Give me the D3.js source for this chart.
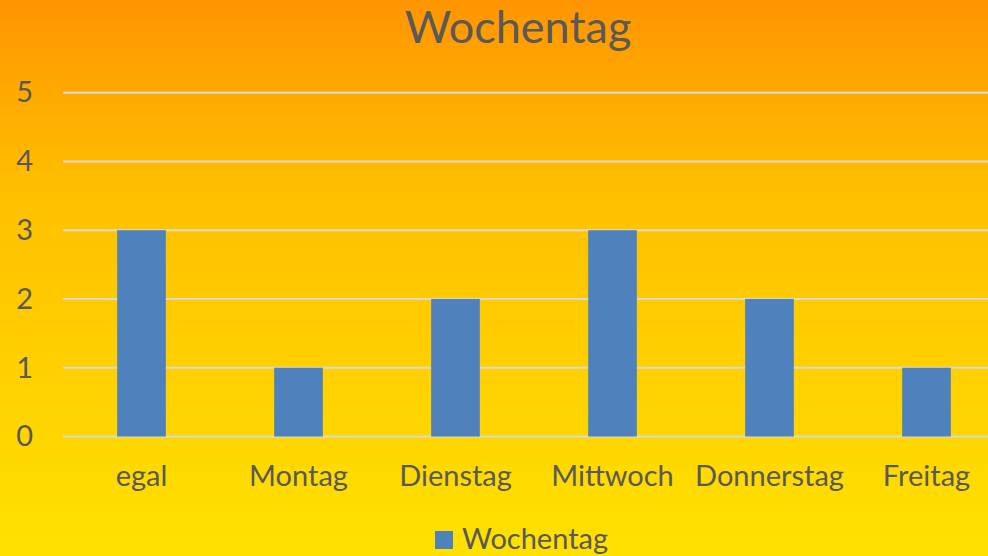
<!DOCTYPE html>
<html><head><meta charset="utf-8">
<script src="https://cdn.jsdelivr.net/npm/d3@7"></script>
<style>html,body{margin:0;padding:0;overflow:hidden;}</style>
</head><body>
<svg id="c" width="988" height="556"></svg>
<script>
const categories = ["egal","Montag","Dienstag","Mittwoch","Donnerstag","Freitag"];
const values = [3,1,2,3,2,1];
const yTicks = [0,1,2,3,4,5];
const seriesName = "Wochentag";
const title = "Wochentag";

const W = 988, H = 556;
const svg = d3.select("#c");
const font = "Lato, 'Open Sans', sans-serif";
const textColor = "#595959";

const defs = svg.append("defs");
const grad = defs.append("linearGradient").attr("id","bg").attr("x1",0).attr("y1",0).attr("x2",0).attr("y2",1);
grad.append("stop").attr("offset","0%").attr("stop-color","#FF9500");
grad.append("stop").attr("offset","35%").attr("stop-color","#FFC000");
grad.append("stop").attr("offset","100%").attr("stop-color","#FFE100");
svg.append("rect").attr("width",W).attr("height",H).attr("fill","url(#bg)");

const x = d3.scaleBand().domain(categories).range([63, 1005]).paddingInner(0.69).paddingOuter(0.345);
const y = d3.scaleLinear().domain([0,5]).range([436.5, 92.7]);

// gridlines
svg.append("g").selectAll("line").data(yTicks).join("line")
  .attr("x1",63).attr("x2",W).attr("y1",d=>y(d)).attr("y2",d=>y(d))
  .attr("stroke","#D9D9D9").attr("stroke-width",2);

// bars
svg.append("g").selectAll("rect").data(values).join("rect")
  .attr("x",(d,i)=>x(categories[i])).attr("width",x.bandwidth())
  .attr("y",d=>y(d)).attr("height",d=>y(0)-y(d))
  .attr("fill","#4F81BD");

// y axis labels
const yAxis = d3.axisLeft(y).tickValues(yTicks).tickFormat(d3.format("d")).tickSize(0).tickPadding(0);
const ga = svg.append("g").attr("transform","translate(33,0)").call(yAxis);
ga.select(".domain").remove();
ga.selectAll("text").attr("font-family",font).attr("font-size",29).attr("fill",textColor);

// x axis labels
const xAxis = d3.axisBottom(x).tickSize(0).tickPadding(0);
const gx = svg.append("g").attr("transform","translate(0,465)").call(xAxis);
gx.select(".domain").remove();
gx.selectAll("text").attr("font-family",font).attr("font-size",29).attr("fill",textColor);

// title
svg.append("text").attr("x",518).attr("y",43).attr("text-anchor","middle")
  .attr("font-family",font).attr("font-size",45).attr("fill",textColor).text(title);

// legend
svg.append("rect").attr("x",435).attr("y",531).attr("width",18).attr("height",18).attr("fill","#4F81BD");
svg.append("text").attr("x",462).attr("y",549).attr("font-family",font).attr("font-size",29).attr("fill",textColor).text(seriesName);
</script>
</body></html>
